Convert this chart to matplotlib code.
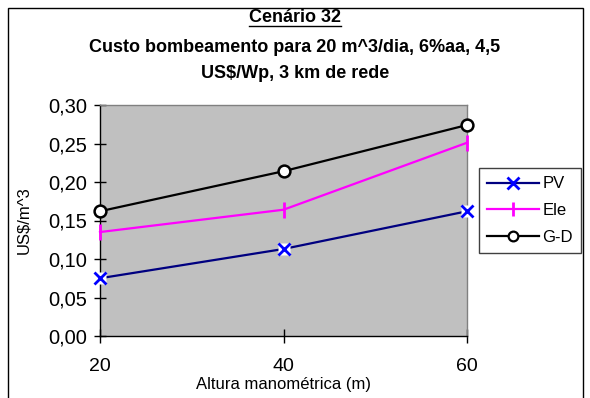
import matplotlib
matplotlib.use('Agg')
import matplotlib.pyplot as plt
from matplotlib.patches import Rectangle
from matplotlib.lines import Line2D
from matplotlib.ticker import FixedLocator, FuncFormatter

plt.rcParams['font.family'] = ['Liberation Sans', 'DejaVu Sans']
plt.rcParams['text.parse_math'] = False

# data
altura = [20, 40, 60]
pv = [0.075, 0.113, 0.162]
ele = [0.135, 0.164, 0.251]
gd = [0.162, 0.214, 0.274]
y_ticks = [0.00, 0.05, 0.10, 0.15, 0.20, 0.25, 0.30]

W, H = 590, 398
fig = plt.figure(figsize=(W / 100, H / 100), dpi=100)
fig.patch.set_facecolor('white')

# outer chart border
fig.patches.append(Rectangle((8 / W, -0.01), 575 / W, 1 - 8 / H + 0.01,
                             transform=fig.transFigure, fill=False,
                             edgecolor='black', linewidth=1.0))

ax = fig.add_axes([100 / W, (H - 336) / H, 367 / W, 231 / H])
ax.set_facecolor('#C0C0C0')

# PV: navy line, blue x markers on white squares
ax.plot(altura, pv, color='#000080', lw=1.6, zorder=3, clip_on=False)
ax.plot(altura, pv, ls='none', marker='s', ms=9, mfc='white', mec='none',
        zorder=4, clip_on=False)
ax.plot(altura, pv, ls='none', marker='x', ms=9, mew=2, color='#0000FF',
        zorder=5, clip_on=False)
# Ele: magenta with vertical bar markers
ax.plot(altura, ele, color='#FF00FF', lw=1.6, marker='|', ms=11, mew=2,
        zorder=3, clip_on=False)
# G-D: black with open circles
ax.plot(altura, gd, color='black', lw=1.6, marker='o', ms=8.5, mfc='white',
        mec='black', mew=1.8, zorder=3, clip_on=False)

ax.set_xlim(20, 60)
ax.set_ylim(0, 0.30)
ax.xaxis.set_major_locator(FixedLocator(altura))
ax.yaxis.set_major_locator(FixedLocator(y_ticks))
ax.yaxis.set_major_formatter(FuncFormatter(lambda v, p: f'{v:.2f}'.replace('.', ',')))
ax.tick_params(axis='x', direction='inout', length=10, width=1, labelsize=14, pad=11)
ax.tick_params(axis='y', direction='inout', length=8, width=1, labelsize=14.5, pad=5)
for s in ax.spines.values():
    s.set_color('black')
    s.set_linewidth(1.0)
ax.spines['right'].set_color('#808080')
ax.spines['top'].set_color('#808080')

# axis titles placed as figure text
fig.text(283 / W, 1 - 385 / H, 'Altura manométrica (m)', fontsize=12,
         ha='center', va='center')
fig.text(24 / W, 1 - 220 / H, 'US$/m^3', rotation=90, fontsize=12,
         ha='center', va='center')

# titles
t1 = fig.text(295 / W, 1 - 18 / H, 'Cenário 32', fontsize=13,
              fontweight='bold', ha='center', va='center')
fig.text(295 / W, 1 - 47 / H, 'Custo bombeamento para 20 m^3/dia, 6%aa, 4,5',
         fontsize=13, fontweight='bold', ha='center', va='center')
fig.text(295 / W, 1 - 73 / H, 'US$/Wp, 3 km de rede', fontsize=13,
         fontweight='bold', ha='center', va='center')

# underline for the first title line
fig.canvas.draw()
bb = t1.get_window_extent()
uy = (bb.y0 + 1) / H
fig.lines.append(Line2D([bb.x0 / W, bb.x1 / W], [uy, uy],
                        transform=fig.transFigure, color='black', lw=1.0))

handles = [
    Line2D([], [], color='#000080', lw=1.6, marker='x', ms=8, mew=2,
           mec='#0000FF'),
    Line2D([], [], color='#FF00FF', lw=1.6, marker='|', ms=10, mew=2),
    Line2D([], [], color='black', lw=1.6, marker='o', ms=7, mfc='white',
           mec='black', mew=1.6),
]
leg = fig.legend(handles, ['PV', 'Ele', 'G-D'], loc='upper left',
                 bbox_to_anchor=(479 / W, 1 - 168 / H), fontsize=12,
                 fancybox=False, framealpha=1, edgecolor='#404040',
                 handlelength=3.1, handletextpad=0.2, borderpad=0.5,
                 labelspacing=0.7, borderaxespad=0)
leg.get_frame().set_linewidth(1.0)

fig.savefig('out.png', dpi=100)
